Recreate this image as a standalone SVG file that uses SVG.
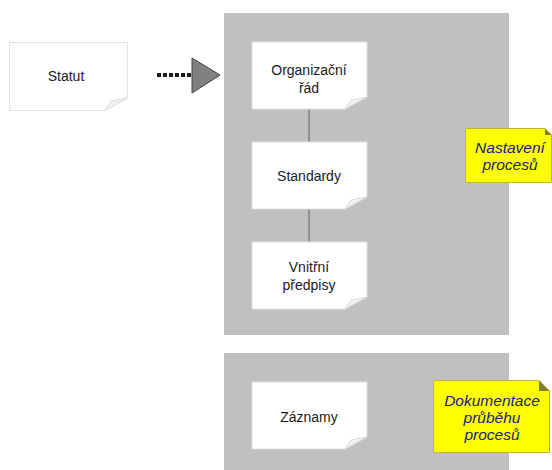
<svg xmlns="http://www.w3.org/2000/svg" width="552" height="470" viewBox="0 0 552 470">
  <defs>
    <style>
      .panel { fill: #c0c0c0; }
      .doc { fill: #ffffff; stroke: #e2e2e2; stroke-width: 1; }
      .curl { fill: #f2f2f2; stroke: #d6d6d6; stroke-width: 0.8; }
      .lbl { font-family: "Liberation Sans", Arial, sans-serif; font-size: 14px; fill: #1a1a1a; text-anchor: middle; }
      .note { fill: #ffff00; stroke: #b8b840; stroke-width: 1; }
      .fold { fill: #808030; }
      .ntxt { font-family: "Liberation Sans", Arial, sans-serif; font-size: 15.5px; font-style: italic; fill: #202080; text-anchor: middle; }
      .link { stroke: #808080; stroke-width: 1.5; fill: none; }
    </style>
  </defs>

  <rect width="552" height="470" fill="#ffffff"/>

  <!-- grey areas -->
  <g id="panel-nastaveni"><rect class="panel" x="224" y="13" width="285" height="322"/></g>
  <g id="panel-dokumentace"><rect class="panel" x="224" y="353" width="285" height="117"/></g>

  <!-- connectors -->
  <g id="connectors">
    <line class="link" x1="309" y1="109" x2="309" y2="142"/>
    <line class="link" x1="309" y1="209" x2="309" y2="242"/>
    <line x1="157" y1="75" x2="193" y2="75" stroke="#1a1a1a" stroke-width="4" stroke-dasharray="4 2"/>
    <polygon points="192,58 220,75 192,93" fill="#808080" stroke="#404040" stroke-width="1"/>
  </g>

  <!-- document nodes -->
  <g id="statut">
    <path class="doc" d="M9.5,42.5 H127.5 V98 L105,110.5 H9.5 Z"/>
    <path class="curl" d="M127.5,98 L111,101 L105,110.5 Z"/>
    <text class="lbl" x="66" y="81">Statut</text>
  </g>

  <g id="organizacni-rad">
    <path class="doc" d="M252,42 H367 V97 L345,109 H252 Z"/>
    <path class="curl" d="M367,97 L351,100 L345,109 Z"/>
    <text class="lbl" x="309" y="75">Organizační</text>
    <text class="lbl" x="309" y="93">řád</text>
  </g>

  <g id="standardy">
    <path class="doc" d="M252,142 H367 V197 L345,209 H252 Z"/>
    <path class="curl" d="M367,197 L351,200 L345,209 Z"/>
    <text class="lbl" x="309" y="181">Standardy</text>
  </g>

  <g id="vnitrni-predpisy">
    <path class="doc" d="M252,242 H367 V297 L345,309 H252 Z"/>
    <path class="curl" d="M367,297 L351,300 L345,309 Z"/>
    <text class="lbl" x="309" y="272">Vnitřní</text>
    <text class="lbl" x="309" y="290">předpisy</text>
  </g>

  <g id="zaznamy">
    <path class="doc" d="M252,382 H367 V437 L345,449 H252 Z"/>
    <path class="curl" d="M367,437 L351,440 L345,449 Z"/>
    <text class="lbl" x="309" y="422">Záznamy</text>
  </g>

  <!-- notes -->
  <g id="note-nastaveni">
    <path class="note" d="M465.5,128.5 H545 L551.5,135 V182.5 H465.5 Z"/>
    <path class="fold" d="M545,128.5 L551.5,135 H545 Z"/>
    <text class="ntxt" x="510" y="153">Nastavení</text>
    <text class="ntxt" x="510" y="170">procesů</text>
  </g>

  <g id="note-dokumentace">
    <path class="note" d="M433.5,380.5 H539 L549.5,391 V452.5 H433.5 Z"/>
    <path class="fold" d="M539,380.5 L549.5,391 H539 Z"/>
    <text class="ntxt" x="492" y="406">Dokumentace</text>
    <text class="ntxt" x="492" y="423">průběhu</text>
    <text class="ntxt" x="492" y="440">procesů</text>
  </g>
</svg>
